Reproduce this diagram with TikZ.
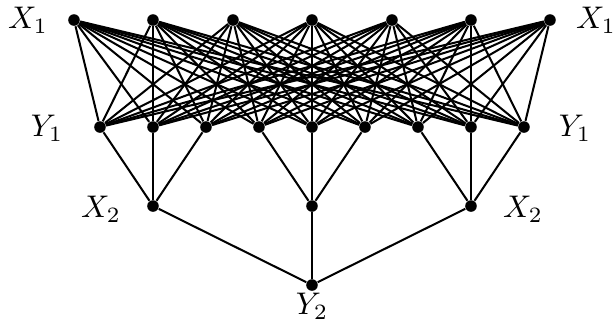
\documentclass[tikz,border=0pt]{standalone}
\begin{document}
\begin{tikzpicture}[x=0.345pt,y=-0.345pt,
  dot/.style={circle,fill=black,inner sep=0pt,minimum size=4pt},
  edge/.style={line width=0.7pt},
  lab/.style={inner sep=0pt,scale=1.08}]
\useasboundingbox (0,0) rectangle (613,322);
% X1 row
\foreach \i/\x in {1/74,2/153,3/233,4/312,5/392,6/471,7/550}
  \node[dot] (a\i) at (\x,20) {};
% Y1 row
\foreach \j/\x in {1/100,2/153,3/206,4/259,5/312,6/365,7/418,8/471,9/524}
  \node[dot] (b\j) at (\x,127) {};
% X2 row
\node[dot] (c1) at (153,206) {};
\node[dot] (c2) at (312,206) {};
\node[dot] (c3) at (471,206) {};
% Y2
\node[dot] (d) at (312,285) {};
% edges
\foreach \i in {1,...,7}
  \foreach \j in {1,...,9}
    \draw[edge] (a\i) -- (b\j);
\foreach \j in {1,2,3} \draw[edge] (c1) -- (b\j);
\foreach \j in {4,5,6} \draw[edge] (c2) -- (b\j);
\foreach \j in {7,8,9} \draw[edge] (c3) -- (b\j);
\foreach \k in {1,2,3} \draw[edge] (d) -- (c\k);
% labels
\node[lab] (l1) at (28,20) {$X_1$};
\node[lab] (l2) at (596,20) {$X_1$};
\node[lab] (l3) at (47,128) {$Y_1$};
\node[lab] (l4) at (575,128) {$Y_1$};
\node[lab] (l5) at (101,209) {$X_2$};
\node[lab] (l6) at (523,209) {$X_2$};
\node[lab] (l7) at (312,306) {$Y_2$};
\end{tikzpicture}
\end{document}
